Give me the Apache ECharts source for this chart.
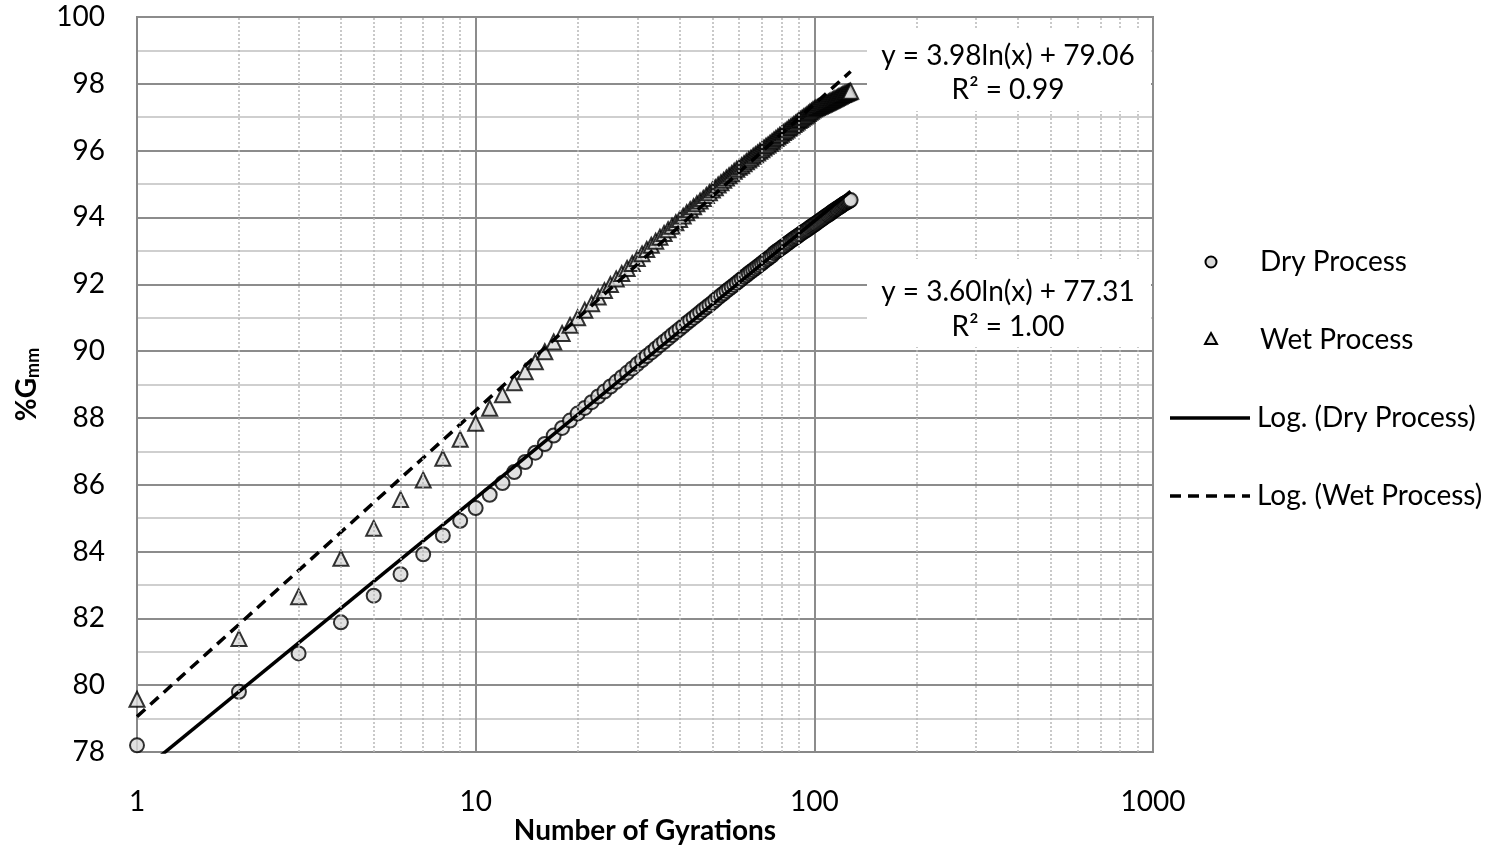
<!DOCTYPE html>
<html><head><meta charset="utf-8">
<script src="https://cdn.jsdelivr.net/npm/echarts@6/dist/echarts.min.js"></script>
<style>html,body{margin:0;padding:0;background:#fff}#c{width:1506px;height:851px}</style>
</head><body><div id="c"></div>
<script>
const gyrations = Array.from({length: 128}, (_, i) => i + 1);
const dryProcess = [
78.20,79.80,80.95,81.88,82.68,83.32,83.92,84.48,84.92,85.30,
85.70,86.05,86.38,86.68,86.96,87.22,87.47,87.70,87.92,88.13,
88.30,88.47,88.64,88.79,88.94,89.08,89.22,89.35,89.48,89.61,
89.73,89.85,89.96,90.07,90.18,90.28,90.38,90.48,90.57,90.66,
90.75,90.84,90.92,91.00,91.08,91.16,91.24,91.31,91.38,91.45,
91.53,91.60,91.67,91.73,91.80,91.86,91.92,91.98,92.04,92.10,
92.16,92.22,92.27,92.33,92.38,92.43,92.48,92.53,92.58,92.63,
92.68,92.73,92.77,92.82,92.86,92.93,92.97,93.01,93.05,93.09,
93.13,93.17,93.21,93.25,93.29,93.33,93.36,93.40,93.43,93.47,
93.50,93.54,93.57,93.60,93.63,93.66,93.70,93.73,93.76,93.79,
93.82,93.85,93.88,93.91,93.94,93.97,94.00,94.03,94.06,94.08,
94.11,94.14,94.17,94.20,94.22,94.25,94.27,94.30,94.32,94.35,
94.37,94.40,94.42,94.44,94.46,94.48,94.50,94.52];
const wetProcess = [
79.58,81.40,82.65,83.80,84.70,85.56,86.14,86.79,87.36,87.84,
88.29,88.69,89.05,89.38,89.68,89.98,90.27,90.53,90.77,91.00,
91.22,91.42,91.62,91.81,91.99,92.16,92.32,92.47,92.62,92.77,
92.91,93.04,93.17,93.29,93.41,93.52,93.63,93.74,93.84,93.94,
94.04,94.14,94.23,94.32,94.41,94.49,94.57,94.66,94.74,94.82,
94.89,94.97,95.04,95.11,95.18,95.25,95.31,95.38,95.44,95.50,
95.55,95.61,95.67,95.72,95.77,95.83,95.88,95.93,95.98,96.03,
96.08,96.13,96.17,96.22,96.27,96.32,96.36,96.41,96.45,96.49,
96.54,96.58,96.62,96.67,96.70,96.74,96.78,96.82,96.86,96.90,
96.93,96.97,97.01,97.04,97.07,97.11,97.15,97.18,97.22,97.25,
97.27,97.29,97.31,97.33,97.35,97.37,97.39,97.41,97.43,97.45,
97.47,97.49,97.51,97.53,97.55,97.57,97.59,97.61,97.63,97.65,
97.67,97.68,97.70,97.72,97.73,97.75,97.76,97.78];
// trendline end points from the printed equations
const dryTrend = [[1, 77.31], [128, 94.78]];
const wetTrend = [[1, 79.06], [128, 98.37]];
const minorXGrid = [2,3,4,5,6,7,8,9,20,30,40,50,60,70,80,90,200,300,400,500,600,700,800,900];
const seriesNames = ['Dry Process', 'Wet Process', 'Log. (Dry Process)', 'Log. (Wet Process)'];
const wetEquation = ['y = 3.98ln(x) + 79.06', 'R² = 0.99'];
const dryEquation = ['y = 3.60ln(x) + 77.31', 'R² = 1.00'];

const FONT = 'Lato';
const FS = 28;
const chart = echarts.init(document.getElementById('c'), null, {renderer: 'canvas'});

const markerStyle = {color: '#d9d9d9', borderColor: '#000', borderWidth: 2};
const txt = (s, x, y, align) => ({type: 'text', x: x, y: y, z: 11,
  style: {text: s, font: FS + 'px ' + FONT, fill: '#000', textAlign: align, textVerticalAlign: 'middle'}});

const option = {
  animation: false,
  backgroundColor: '#fff',
  textStyle: {fontFamily: FONT, color: '#000'},
  grid: {left: 137, right: 353, top: 17, bottom: 99, show: true, borderColor: '#888', borderWidth: 2, backgroundColor: 'transparent'},
  xAxis: {
    type: 'log', logBase: 10, min: 1, max: 1000,
    name: 'Number of Gyrations', nameLocation: 'middle', nameGap: 65, nameMoveOverlap: false,
    nameTextStyle: {fontFamily: FONT, fontSize: FS, fontWeight: 'bold', color: '#000'},
    axisLine: {show: true, lineStyle: {color: '#888', width: 2}},
    axisTick: {show: false},
    axisLabel: {fontFamily: FONT, fontSize: FS, color: '#000', margin: 36, formatter: v => String(Math.round(v))},
    splitLine: {show: true, lineStyle: {color: '#8c8c8c', width: 2}}
  },
  yAxis: {
    type: 'value', min: 78, max: 100, interval: 2,
    name: '{a|%G}{b|mm}', nameLocation: 'middle', nameGap: 95, nameRotate: 90, nameMoveOverlap: false,
    nameTextStyle: {
      rich: {
        a: {fontFamily: FONT, fontSize: FS, fontWeight: 'bold', color: '#000'},
        b: {fontFamily: FONT, fontSize: 18, fontWeight: 'bold', color: '#000', padding: [12, 0, 0, 0]}
      }
    },
    axisLine: {show: true, lineStyle: {color: '#888', width: 2}},
    axisTick: {show: false},
    axisLabel: {fontFamily: FONT, fontSize: FS, color: '#000', margin: 32},
    splitLine: {show: true, lineStyle: {color: '#8c8c8c', width: 2}},
    minorTick: {show: false, splitNumber: 2},
    minorSplitLine: {show: true, lineStyle: {color: '#c0c0c0', width: 1.5}}
  },
  series: [
    {
      type: 'line', data: [], z: 1, silent: true,
      markLine: {
        silent: true, symbol: ['none', 'none'], label: {show: false},
        lineStyle: {color: '#b8b8b8', width: 1.5, type: [2, 2]},
        data: minorXGrid.map(v => ({xAxis: v}))
      }
    },
    {
      name: seriesNames[0], type: 'scatter', z: 3,
      symbol: 'circle', symbolSize: 14, itemStyle: markerStyle,
      data: gyrations.map((n, i) => [n, dryProcess[i]])
    },
    {
      name: seriesNames[1], type: 'scatter', z: 3,
      symbol: 'triangle', symbolSize: 15, itemStyle: markerStyle,
      data: gyrations.map((n, i) => [n, wetProcess[i]])
    },
    {
      name: seriesNames[2], type: 'line', z: 4, clip: true, showSymbol: false, symbol: 'none',
      lineStyle: {color: '#000', width: 3.5}, data: dryTrend
    },
    {
      name: seriesNames[3], type: 'line', z: 4, clip: true, showSymbol: false, symbol: 'none',
      lineStyle: {color: '#000', width: 3.5, type: [11, 7]}, data: wetTrend
    }
  ],
  graphic: [
    {type: 'rect', shape: {x: 867, y: 28, width: 284, height: 83}, style: {fill: '#fff'}, z: 10},
    txt(wetEquation[0], 1008, 56, 'center'),
    txt(wetEquation[1], 1008, 90, 'center'),
    {type: 'rect', shape: {x: 867, y: 259, width: 284, height: 88}, style: {fill: '#fff'}, z: 10},
    txt(dryEquation[0], 1008, 292, 'center'),
    txt(dryEquation[1], 1008, 327, 'center'),
    {type: 'circle', shape: {cx: 1211, cy: 262, r: 5.5}, style: {fill: '#d9d9d9', stroke: '#000', lineWidth: 2}, z: 11},
    txt(seriesNames[0], 1260, 262, 'left'),
    {type: 'polygon', shape: {points: [[1211, 333], [1217, 344], [1205, 344]]}, style: {fill: '#d9d9d9', stroke: '#000', lineWidth: 2}, z: 11},
    txt(seriesNames[1], 1260, 340, 'left'),
    {type: 'line', shape: {x1: 1170, y1: 418, x2: 1250, y2: 418}, style: {stroke: '#000', lineWidth: 3.5}, z: 11},
    txt(seriesNames[2], 1257, 418, 'left'),
    {type: 'line', shape: {x1: 1170, y1: 496, x2: 1250, y2: 496}, style: {stroke: '#000', lineWidth: 3.5, lineDash: [11, 7]}, z: 11},
    txt(seriesNames[3], 1257, 496, 'left')
  ]
};
chart.setOption(option);
</script>
</body></html>
